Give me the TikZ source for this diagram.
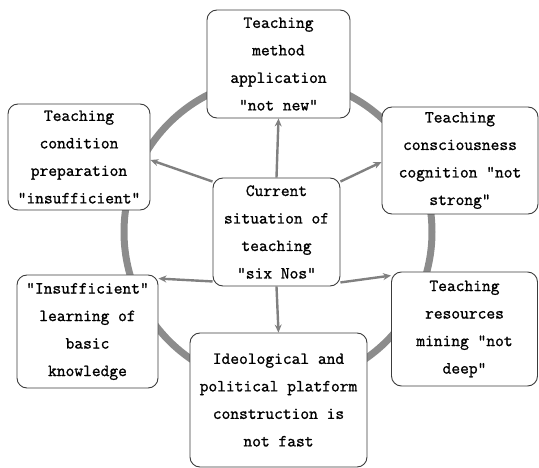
\documentclass[tikz,border=0pt]{standalone}
\usepackage{fontspec}
\newfontfamily\boxfont{Latin Modern Mono}[FakeBold=1.2]
\usetikzlibrary{arrows.meta,calc}
\definecolor{ringgray}{RGB}{140,140,140}
\definecolor{arrgray}{RGB}{128,128,128}
\definecolor{boxline}{RGB}{60,60,60}
\tikzset{
  box/.style={draw=boxline, line width=0.9pt, rounded corners=10pt, fill=white,
    inner sep=0pt, align=center, font=\boxfont\fontsize{17}{27.5}\selectfont},
  conn/.style={draw=arrgray, line width=2.4pt, -{Stealth[length=8pt,width=7pt]}},
}
\begin{document}
\begin{tikzpicture}[x=1pt,y=-1pt]
\useasboundingbox (0,0) rectangle (539,468);
\draw[ringgray, line width=7pt] (278,232) circle[radius=154];
\node[box, minimum width=127pt, minimum height=108pt] (c) at (276.5,232)
  {Current\\situation of\\teaching\\"six Nos"};
\node[box, minimum width=143pt, minimum height=108pt] (top) at (278.5,64)
  {Teaching\\method\\application\\"not new"};
\node[box, minimum width=142pt, minimum height=106pt] (lt) at (79,157)
  {Teaching\\condition\\preparation\\"insufficient"};
\node[box, minimum width=156pt, minimum height=107pt] (rt) at (460,160.5)
  {Teaching\\consciousness\\cognition "not\\strong"};
\node[box, minimum width=141pt, minimum height=113pt] (lb) at (87.5,331.5)
  {"Insufficient"\\learning of\\basic\\knowledge};
\node[box, minimum width=177pt, minimum height=134pt] (bot) at (278.5,400)
  {Ideological and\\political platform\\construction is\\not fast};
\node[box, minimum width=146pt, minimum height=114pt] (rb) at (464.5,329)
  {Teaching\\resources\\mining "not\\deep"};
\path[conn] (c.north) -- (top.south);
\path[conn] (c.south) -- (bot.north);
\path[conn] ([yshift=-4pt]c.north west) -- ([yshift=-3pt]lt.east);
\path[conn] ([yshift=-4pt]c.north east) -- ([yshift=-1.5pt]rt.west);
\path[conn] ([yshift=5pt]c.south west) -- ([yshift=-4pt]lb.north east);
\path[conn] ([yshift=4pt]c.south east) -- ([yshift=-4pt]rb.north west);
\end{tikzpicture}
\end{document}
